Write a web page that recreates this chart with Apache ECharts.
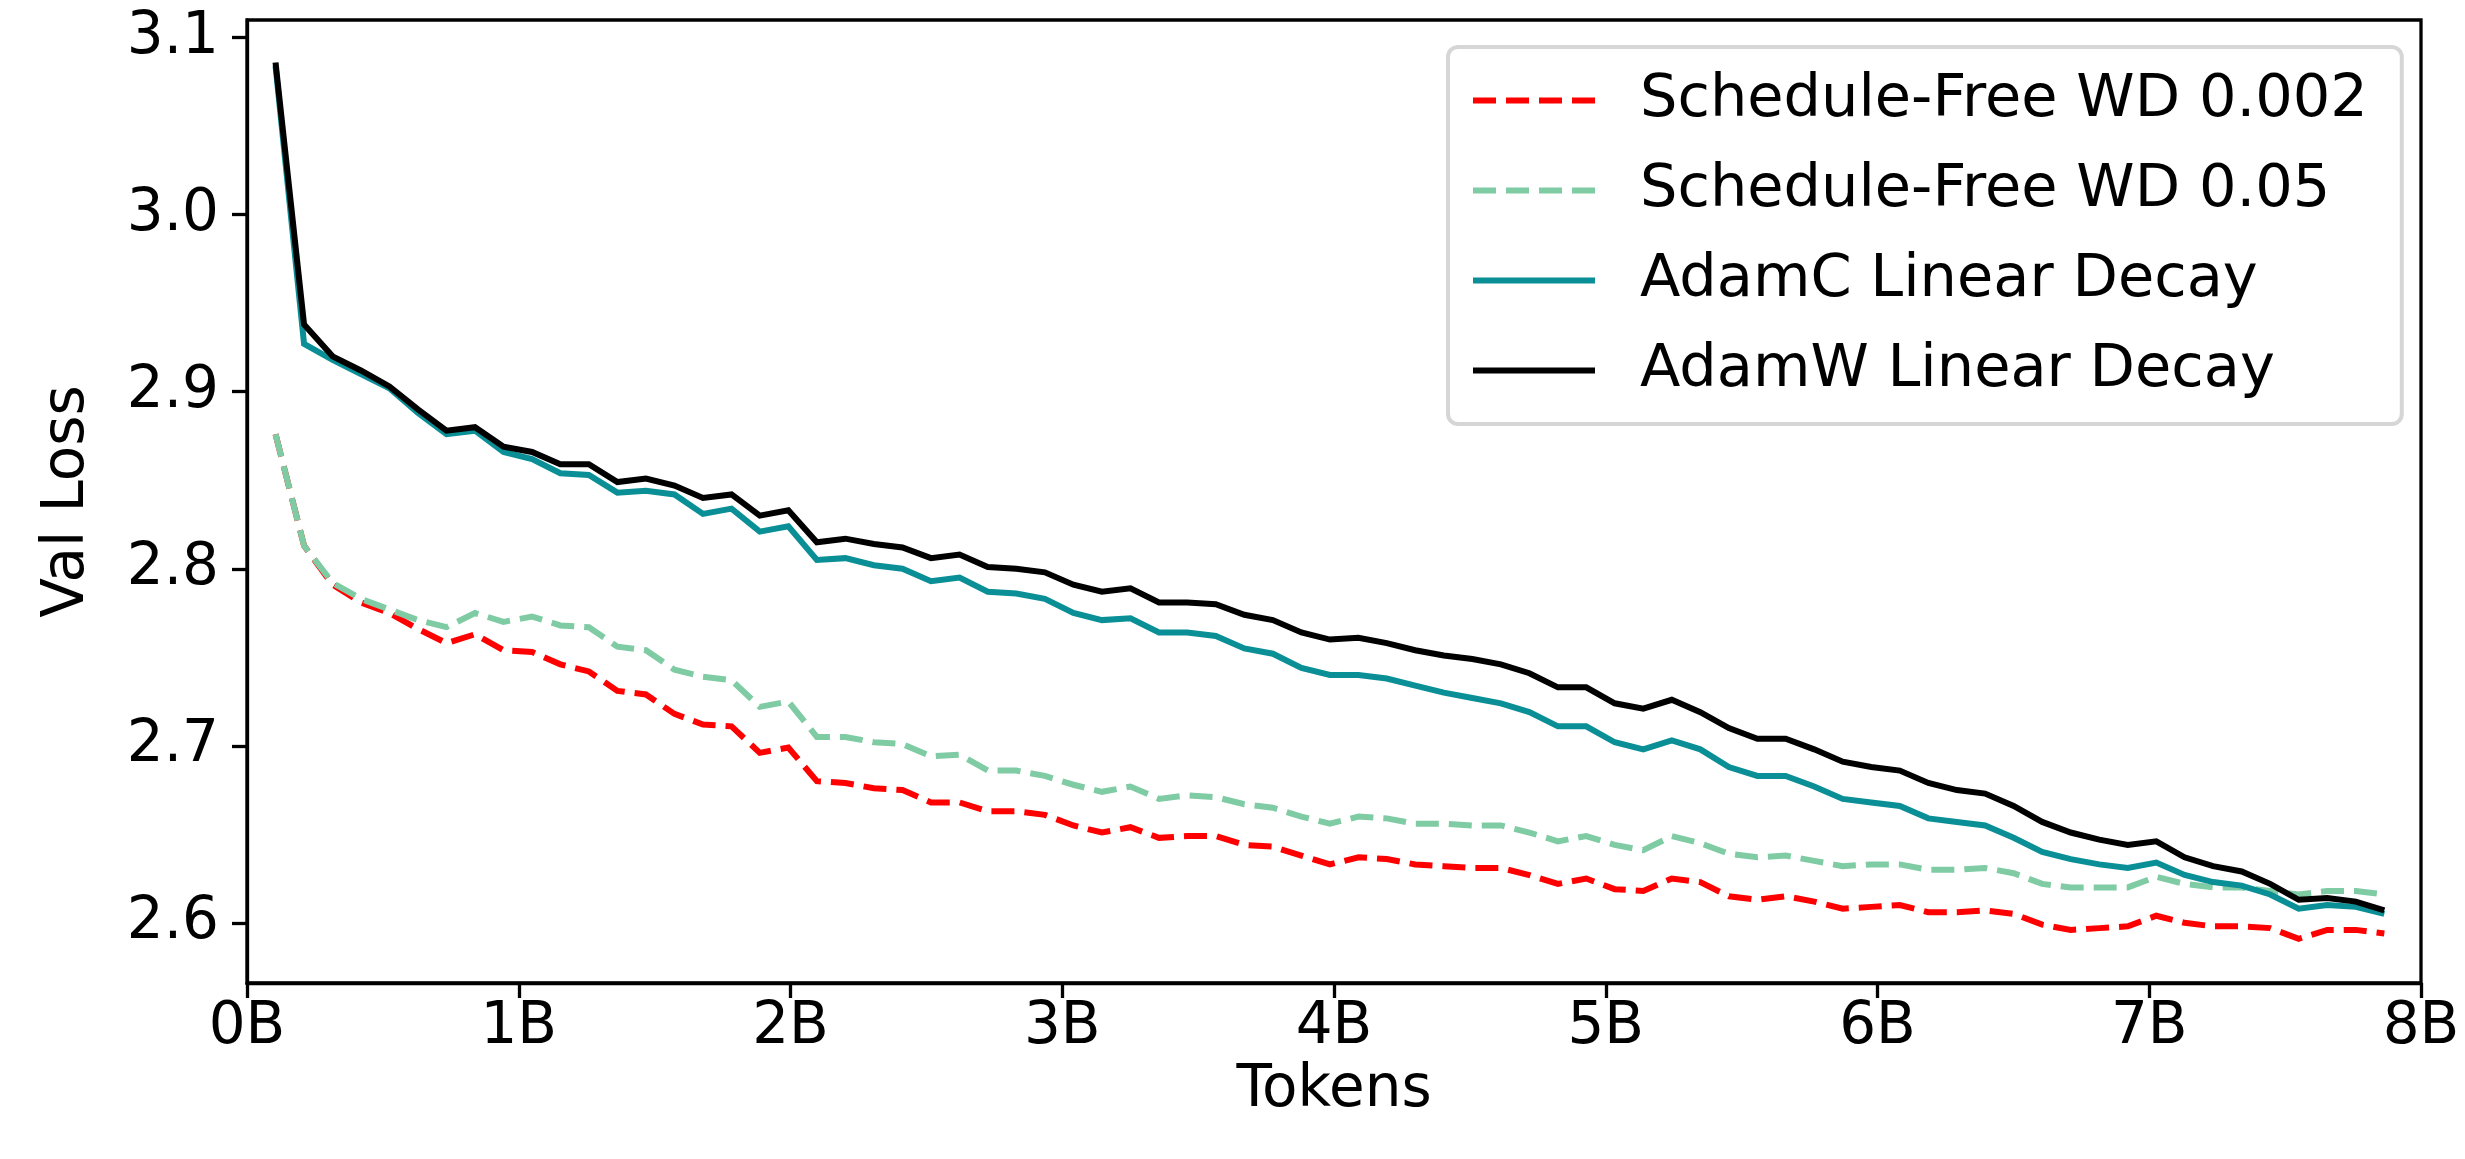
<!DOCTYPE html>
<html>
<head>
<meta charset="utf-8">
<script src="https://cdn.jsdelivr.net/npm/echarts@6/dist/echarts.min.js"></script>
<style>
  html, body { margin: 0; padding: 0; background: #ffffff; }
  #chart { width: 2465px; height: 1159px; }
</style>
</head>
<body>
<div id="chart"></div>
<script>
// Tokens seen at each evaluation (billions)
const tokensB = [
  0.105, 0.210, 0.315, 0.419, 0.524, 0.629, 0.734, 0.839, 0.944, 1.049,
  1.153, 1.258, 1.363, 1.468, 1.573, 1.678, 1.783, 1.887, 1.992, 2.097,
  2.202, 2.307, 2.412, 2.517, 2.622, 2.726, 2.831, 2.936, 3.041, 3.146,
  3.251, 3.356, 3.460, 3.565, 3.670, 3.775, 3.880, 3.985, 4.090, 4.194,
  4.299, 4.404, 4.509, 4.614, 4.719, 4.824, 4.928, 5.033, 5.138, 5.243,
  5.348, 5.453, 5.558, 5.662, 5.767, 5.872, 5.977, 6.082, 6.187, 6.292,
  6.396, 6.501, 6.606, 6.711, 6.816, 6.921, 7.026, 7.130, 7.235, 7.340,
  7.445, 7.550, 7.655, 7.760, 7.865
];

// Validation loss per run
const sfWd002 = [
  2.876, 2.813, 2.791, 2.781, 2.775, 2.766, 2.758, 2.763, 2.754, 2.753,
  2.746, 2.742, 2.731, 2.729, 2.718, 2.712, 2.711, 2.696, 2.699, 2.680,
  2.679, 2.676, 2.675, 2.668, 2.668, 2.663, 2.663, 2.661, 2.655, 2.651,
  2.654, 2.648, 2.649, 2.649, 2.644, 2.643, 2.638, 2.633, 2.637, 2.636,
  2.633, 2.632, 2.631, 2.631, 2.627, 2.622, 2.625, 2.619, 2.618, 2.625,
  2.623, 2.615, 2.613, 2.615, 2.612, 2.608, 2.609, 2.610, 2.606, 2.606,
  2.607, 2.605, 2.599, 2.596, 2.597, 2.598, 2.604, 2.600, 2.598, 2.598,
  2.597, 2.591, 2.596, 2.596, 2.594
];
const sfWd05 = [
  2.876, 2.813, 2.792, 2.783, 2.777, 2.771, 2.767, 2.775, 2.770, 2.773,
  2.768, 2.767, 2.756, 2.754, 2.743, 2.739, 2.737, 2.722, 2.725, 2.705,
  2.705, 2.702, 2.701, 2.694, 2.695, 2.686, 2.686, 2.683, 2.678, 2.674,
  2.677, 2.670, 2.672, 2.671, 2.667, 2.665, 2.660, 2.656, 2.660, 2.659,
  2.656, 2.656, 2.655, 2.655, 2.651, 2.646, 2.649, 2.644, 2.641, 2.649,
  2.645, 2.639, 2.637, 2.638, 2.635, 2.632, 2.633, 2.633, 2.630, 2.630,
  2.631, 2.628, 2.622, 2.620, 2.620, 2.620, 2.626, 2.622, 2.620, 2.620,
  2.618, 2.616, 2.618, 2.618, 2.616
];
const adamC = [
  3.084, 2.927, 2.918, 2.910, 2.902, 2.888, 2.876, 2.878, 2.866, 2.862,
  2.854, 2.853, 2.843, 2.844, 2.842, 2.831, 2.834, 2.821, 2.824, 2.805,
  2.806, 2.802, 2.800, 2.793, 2.795, 2.787, 2.786, 2.783, 2.775, 2.771,
  2.772, 2.764, 2.764, 2.762, 2.755, 2.752, 2.744, 2.740, 2.740, 2.738,
  2.734, 2.730, 2.727, 2.724, 2.719, 2.711, 2.711, 2.702, 2.698, 2.703,
  2.698, 2.688, 2.683, 2.683, 2.677, 2.670, 2.668, 2.666, 2.659, 2.657,
  2.655, 2.648, 2.640, 2.636, 2.633, 2.631, 2.634, 2.627, 2.623, 2.621,
  2.616, 2.608, 2.610, 2.609, 2.605
];
const adamW = [
  3.086, 2.938, 2.920, 2.912, 2.903, 2.890, 2.878, 2.880, 2.869, 2.866,
  2.859, 2.859, 2.849, 2.851, 2.847, 2.840, 2.842, 2.830, 2.833, 2.815,
  2.817, 2.814, 2.812, 2.806, 2.808, 2.801, 2.800, 2.798, 2.791, 2.787,
  2.789, 2.781, 2.781, 2.780, 2.774, 2.771, 2.764, 2.760, 2.761, 2.758,
  2.754, 2.751, 2.749, 2.746, 2.741, 2.733, 2.733, 2.724, 2.721, 2.726,
  2.719, 2.710, 2.704, 2.704, 2.698, 2.691, 2.688, 2.686, 2.679, 2.675,
  2.673, 2.666, 2.657, 2.651, 2.647, 2.644, 2.646, 2.637, 2.632, 2.629,
  2.622, 2.613, 2.614, 2.612, 2.607
];

const seriesNames = [
  'Schedule-Free WD 0.002',
  'Schedule-Free WD 0.05',
  'AdamC Linear Decay',
  'AdamW Linear Decay'
];
const seriesColors = ['#ff0000', '#7fcba3', '#0a8f96', '#000000'];
const seriesDashed = [true, true, false, false];
const yTicks = [2.6, 2.7, 2.8, 2.9, 3.0, 3.1];

const FONT = 'DejaVu Sans';
const FS = 58;
const DASH = [23, 10];
const LW = 6;

function pairs(values) {
  return tokensB.map((t, i) => [t, values[i]]);
}

function lineSeries(idx, values) {
  const color = seriesColors[idx];
  return {
    name: seriesNames[idx],
    type: 'line',
    data: pairs(values),
    symbol: 'none',
    showSymbol: false,
    animation: false,
    lineStyle: { color: color, width: LW, type: seriesDashed[idx] ? DASH : 'solid', cap: 'butt', join: 'miter' },
    itemStyle: { color: color }
  };
}

const chart = echarts.init(document.getElementById('chart'), null, { renderer: 'canvas' });
chart.setOption({
  backgroundColor: '#ffffff',
  animation: false,
  textStyle: { fontFamily: FONT },
  grid: {
    left: 247, top: 20, right: 44, bottom: 176,
    show: true, borderColor: '#000', borderWidth: 3.3, backgroundColor: 'transparent'
  },
  legend: {
    orient: 'vertical',
    left: 1448,
    top: 47,
    padding: [24, 34, 24, 22],
    itemWidth: 122,
    itemHeight: 24,
    itemGap: 31,
    backgroundColor: '#ffffff',
    borderColor: '#d6d6d6',
    borderWidth: 4,
    borderRadius: 10,
    itemStyle: { opacity: 0 },
    textStyle: { fontFamily: FONT, fontSize: 59, color: '#000', padding: [0, 0, 0, 40] },
    data: seriesNames.map((n, i) => ({
      name: n,
      itemStyle: { opacity: 0 },
      lineStyle: { color: seriesColors[i], width: LW, type: seriesDashed[i] ? DASH : 'solid', cap: 'butt' }
    }))
  },
  xAxis: {
    type: 'value',
    min: 0, max: 8, interval: 1,
    name: 'Tokens',
    nameLocation: 'middle',
    nameGap: 66,
    nameTextStyle: { fontFamily: FONT, fontSize: FS, color: '#000' },
    axisLine: { show: true, lineStyle: { color: '#000', width: 3.3 } },
    axisTick: { show: true, length: 15, lineStyle: { color: '#000', width: 3.3 } },
    axisLabel: { fontFamily: FONT, fontSize: FS, color: '#000', margin: 16, formatter: v => v + 'B' },
    splitLine: { show: false }
  },
  yAxis: {
    type: 'value',
    min: 2.566, max: 3.110,
    name: 'Val Loss',
    nameLocation: 'middle',
    nameRotate: 90,
    nameGap: 150,
    nameTextStyle: { fontFamily: FONT, fontSize: FS, color: '#000' },
    axisLine: { show: true, lineStyle: { color: '#000', width: 3.3 } },
    axisTick: { show: true, length: 15, customValues: yTicks, lineStyle: { color: '#000', width: 3.3 } },
    axisLabel: { fontFamily: FONT, fontSize: FS, color: '#000', margin: 28, customValues: yTicks, formatter: v => v.toFixed(1) },
    splitLine: { show: false }
  },
  series: [
    lineSeries(0, sfWd002),
    lineSeries(1, sfWd05),
    lineSeries(2, adamC),
    lineSeries(3, adamW)
  ]
});
</script>
</body>
</html>
